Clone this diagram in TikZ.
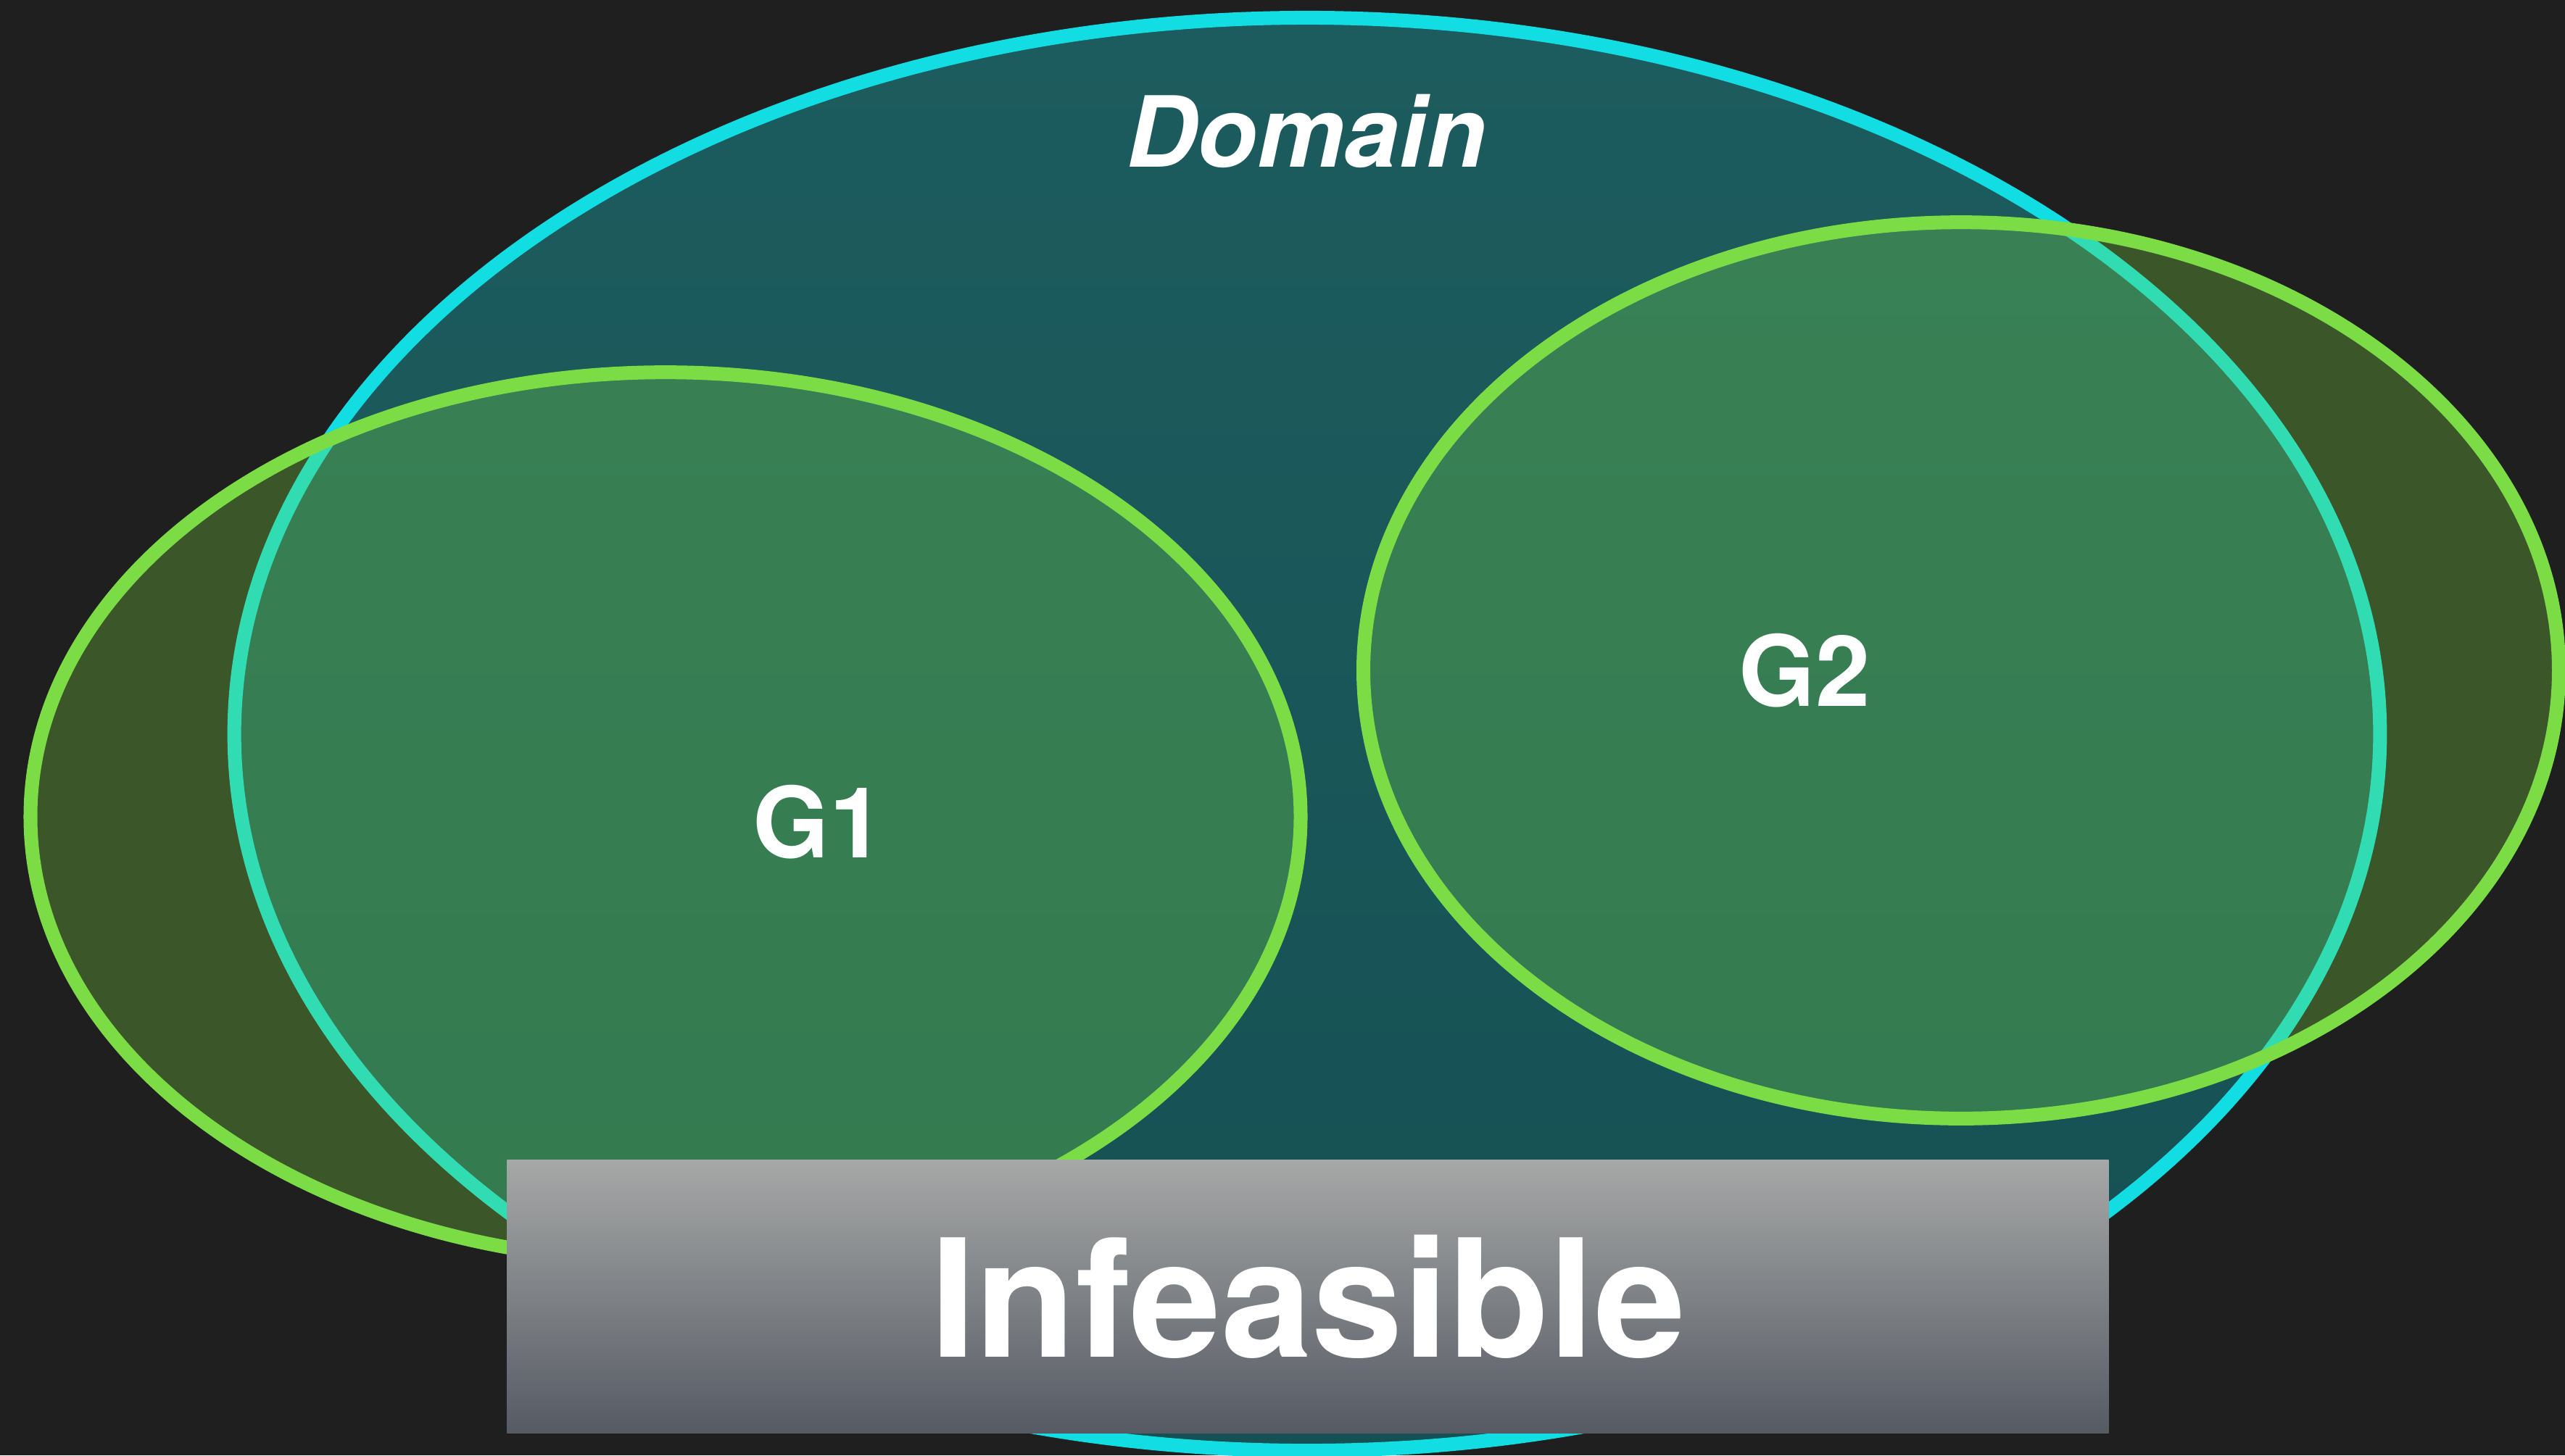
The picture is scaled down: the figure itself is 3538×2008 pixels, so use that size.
\documentclass[tikz,border=0pt]{standalone}
\usepackage{fontspec}
\setmainfont{TeX Gyre Heros}
\begin{document}
\begin{tikzpicture}[x=0.01cm,y=-0.01cm,
  setline/.style={line width=0.19cm},
  domainset/.style={setline, draw={rgb,255:red,18;green,221;blue,227},
    top color={rgb,255:red,29;green,92;blue,94},
    bottom color={rgb,255:red,21;green,80;blue,83}},
  goalset/.style={setline, draw={rgb,255:red,123;green,220;blue,70},
    fill={rgb,255:red,125;green,218;blue,70}, fill opacity=0.3},
  setlabel/.style={text=white, font=\fontsize{38.5pt}{40pt}\selectfont\bfseries, anchor=base, inner sep=0},
  banner/.style={rectangle, inner sep=0, minimum width=22.08cm, minimum height=3.76cm,
    top color={rgb,255:red,166;green,168;blue,167},
    bottom color={rgb,255:red,86;green,90;blue,99},
    text=white, font=\fontsize{64.3pt}{66pt}\selectfont\bfseries}
]
  % canvas
  \fill[fill={rgb,255:red,31;green,31;blue,31}] (0,0) rectangle (3538,2008);
  \useasboundingbox (0,0) rectangle (3538,2008);

  % centres of the three sets
  \coordinate (domainC) at (1803,1013);
  \coordinate (gOneC) at (918,1127);
  \coordinate (gTwoC) at (2705,925);

  % the domain
  \path[domainset] (domainC) ellipse [x radius=14.79cm, y radius=9.88cm];

  % the two goal sets, translucent over the domain
  \path[goalset] (gOneC) ellipse [x radius=8.755cm, y radius=6.13cm];
  \path[goalset] (gTwoC) ellipse [x radius=8.24cm, y radius=6.18cm];

  % labels
  \node[setlabel, font=\fontsize{38.5pt}{40pt}\selectfont\bfseries\itshape] (domainLabel) at (1802,230) {Domain};
  \node[setlabel] (gOneLabel) at (1129,1183) {G1};
  \node[setlabel] (gTwoLabel) at (2489,974) {G2};

  % banner
  \node[banner] (infeasible) at (1804,1789) {Infeasible};
\end{tikzpicture}
\end{document}
